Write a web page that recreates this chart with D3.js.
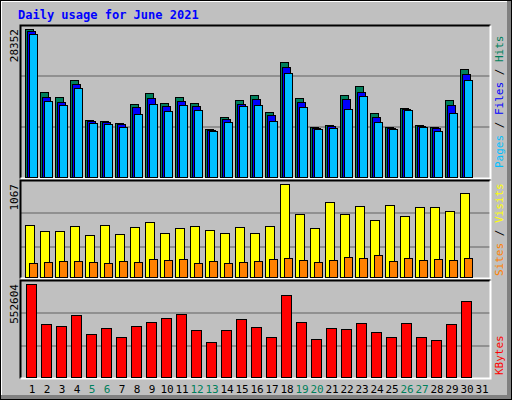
<!DOCTYPE html>
<html><head><meta charset="utf-8">
<script src="https://cdn.jsdelivr.net/npm/d3@7"></script>
<style>body{margin:0;background:#fff}</style>
</head><body>
<div class="chart"></div>
<script>
// values
var days = d3.range(1, 32);
var weekends = [5, 6, 12, 13, 19, 20, 26, 27];
var hits  = [28352,16290,15330,18590,10920,10730,10350,13990,16100,14180,15330,14180,9200,11500,14750,15710,12450,22040,15140,9580,9960,15710,17440,12260,9580,13220,9960,9580,14750,20690];
var files = [27970,15330,14370,17820,10730,10540,10150,13410,15140,13600,14560,13600,9000,11110,13990,14940,11880,21080,14370,9390,9770,14940,16290,11500,9390,13030,9770,9390,13800,19730];
var pages = [27400,14560,13800,17050,10350,10150,9580,12070,13990,12650,13800,12840,8810,10540,13600,13800,10730,19930,13410,9200,9390,13030,15520,10540,9200,12840,9580,8810,12260,18590];
var visits = [596,528,528,585,482,596,493,574,631,505,562,585,539,505,574,505,585,1067,722,562,860,722,814,654,826,700,803,803,757,963];
var sites = [161,172,184,184,172,161,184,172,207,195,207,161,184,161,172,184,207,218,195,172,195,229,218,252,184,218,195,207,195,218];
var kbytes = [552604,312350,300340,366390,258330,288360,240310,300340,324370,348390,372420,276340,210250,276340,342380,294360,240310,486530,324370,228300,288360,282360,318370,270330,240310,318370,240310,222290,312350,450500];

var W = 512, H = 400;
var svg = d3.select(".chart").append("svg").attr("width", W).attr("height", H)
  .style("font-family", "DejaVu Sans Mono, monospace");

svg.append("rect").attr("x", 0).attr("y", 0).attr("width", W).attr("height", H).attr("fill", "#000");
svg.append("rect").attr("x", 1).attr("y", 1).attr("width", W - 2).attr("height", H - 2).attr("fill", "#808080");
svg.append("rect").attr("x", 1).attr("y", 1).attr("width", W - 6).attr("height", H - 6).attr("fill", "#fff");
svg.append("rect").attr("x", 2).attr("y", 2).attr("width", W - 7).attr("height", H - 7).attr("fill", "#c0c0c0");

svg.append("text").attr("x", 18).attr("y", 19).text("Daily usage for June 2021")
  .attr("fill", "#0000ff").attr("font-weight", "bold").attr("font-size", 12);

var x = d3.scaleBand().domain(days).range([23, 488]).paddingInner(0);

var panels = [
  {top: 25, base: 177, max: 28352, grids: [76, 127], label: "28352"},
  {top: 180, base: 277, max: 1067, grids: [213, 247], label: "1067"},
  {top: 280, base: 377, max: 552604, grids: [313, 346], label: "552604"}
];
panels.forEach(function(p) {
  p.y = d3.scaleLinear().domain([0, p.max]).range([p.base, p.top + 4]);
  var g = svg.append("g");
  g.append("rect").attr("x", 20).attr("y", p.top).attr("width", 471).attr("height", p.base - p.top + 1)
    .attr("fill", "#c0c0c0");
  p.grids.forEach(function(gy) {
    g.append("line").attr("x1", 21).attr("x2", 490).attr("y1", gy).attr("y2", gy)
      .attr("stroke", "#808080").attr("stroke-width", 1.5);
  });
  g.append("path").attr("d", "M20.5," + (p.base + 1.5) + "V" + (p.top + 0.5) + "H490.5")
    .attr("stroke", "#000").attr("fill", "none").attr("stroke-width", 2);
  g.append("path").attr("d", "M490.5," + (p.top + 0.5) + "V" + (p.base + 1.5) + "H20.5")
    .attr("stroke", "#fff").attr("fill", "none").attr("stroke-width", 2);
  svg.append("text").attr("transform", "translate(18," + (p.top + 4) + ") rotate(-90)")
    .attr("text-anchor", "end").attr("font-size", 11).attr("fill", "#000").text(p.label);
});

function bars(data, pi, off, w, color) {
  var p = panels[pi];
  svg.append("g").selectAll("rect").data(data).enter().append("rect")
    .attr("x", function(d, i) { return x(days[i]) + off + 0.5; })
    .attr("y", function(d) { return Math.round(p.y(d)) + 0.5; })
    .attr("width", w)
    .attr("height", function(d) { return p.base - Math.round(p.y(d)); })
    .attr("fill", color).attr("stroke", "#000").attr("stroke-width", 1);
}
bars(hits, 0, 2, 8, "#00805c");
bars(files, 0, 4, 8, "#0000ff");
bars(pages, 0, 6, 8, "#00c0ff");
bars(visits, 1, 2, 9, "#ffff00");
bars(sites, 1, 6, 8, "#ff8000");
bars(kbytes, 2, 3, 10, "#ff0000");

svg.append("g").selectAll("text").data(days).enter().append("text")
  .attr("x", function(d) { return x(d) + 9; })
  .attr("y", 393).attr("text-anchor", "middle").attr("font-size", 11)
  .attr("fill", function(d) { return weekends.indexOf(d) >= 0 ? "#00805c" : "#000"; })
  .text(function(d) { return d; });

function sideLabel(yb, parts) {
  var t = svg.append("text").attr("transform", "translate(503," + yb + ") rotate(-90)")
    .attr("font-size", 11).attr("xml:space", "preserve");
  parts.forEach(function(q) { t.append("tspan").attr("fill", q[1]).text(q[0]); });
}
sideLabel(168, [["Pages", "#00c0ff"], [" / ", "#000"], ["Files", "#0000ff"], [" / ", "#000"], ["Hits", "#00805c"]]);
sideLabel(276, [["Sites", "#ff8000"], [" / ", "#000"], ["Visits", "#ffff00"]]);
sideLabel(375, [["KBytes", "#ff0000"]]);
</script>
</body></html>
